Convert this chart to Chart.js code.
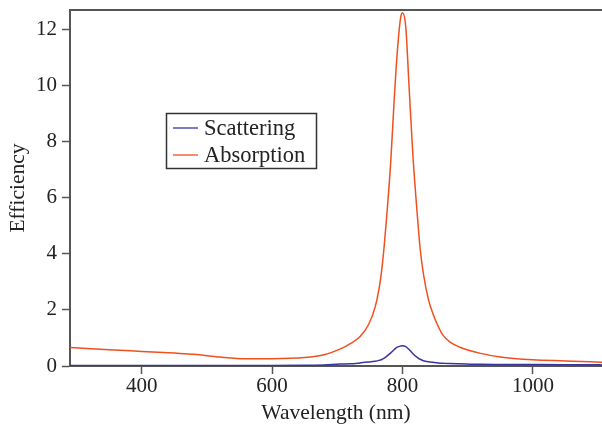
<!DOCTYPE html>
<html>
<head>
<meta charset="utf-8">
<script src="https://cdn.jsdelivr.net/npm/chart.js@4"></script>
<style>
  html, body { margin: 0; padding: 0; background: #fff; }
  #wrap { width: 602px; height: 429px; }
</style>
</head>
<body>
<div id="wrap"><canvas id="chart"></canvas></div>
<script>
// wavelength samples (nm) and efficiencies
const wavelengths = [290, 350, 400, 450, 480, 520, 560, 600, 650, 680, 704, 720, 735, 748, 758, 764, 768, 772, 776, 782, 787, 792, 797, 800, 805, 810, 816, 823, 827, 832, 840, 847, 855, 862, 873, 888, 920, 950, 1000, 1050, 1106];
const absorption  = [0.66, 0.58, 0.52, 0.46, 0.42, 0.32, 0.26, 0.26, 0.30, 0.40, 0.60, 0.80, 1.05, 1.48, 2.10, 2.75, 3.40, 4.30, 5.40, 7.30, 9.40, 11.2, 12.4, 12.6, 12.1, 10.0, 7.50, 5.30, 4.20, 3.30, 2.35, 1.85, 1.40, 1.10, 0.85, 0.67, 0.45, 0.32, 0.22, 0.18, 0.13];
const scattering  = [0.02, 0.02, 0.02, 0.02, 0.02, 0.02, 0.02, 0.02, 0.025, 0.04, 0.07, 0.08, 0.11, 0.14, 0.17, 0.20, 0.23, 0.28, 0.35, 0.47, 0.58, 0.67, 0.71, 0.72, 0.69, 0.59, 0.44, 0.30, 0.24, 0.19, 0.15, 0.13, 0.11, 0.10, 0.09, 0.08, 0.06, 0.055, 0.05, 0.045, 0.04];
const xTicks = [400, 600, 800, 1000];
const yTicks = [0, 2, 4, 6, 8, 10, 12];

const axisColor = "#555";
const textColor = "#222";
const serif = "'Liberation Serif', 'DejaVu Serif', serif";

// frame line along the top and a boxed legend inside the plot
const framePlugin = {
  id: "frame",
  afterDraw(chart) {
    const {ctx, chartArea: a} = chart;
    ctx.save();
    ctx.strokeStyle = axisColor;
    ctx.lineWidth = 2;
    ctx.beginPath();
    ctx.moveTo(a.left - 1, a.top);
    ctx.lineTo(a.right + 2, a.top);
    ctx.stroke();

    // legend box
    ctx.lineWidth = 1.5;
    ctx.strokeStyle = "#333";
    ctx.strokeRect(166.5, 113.5, 150, 55);
    ctx.font = "22.5px " + serif;
    ctx.textBaseline = "middle";
    chart.data.datasets.forEach((ds, i) => {
      const y = 128 + i * 27;
      ctx.strokeStyle = ds.borderColor;
      ctx.lineWidth = 1.3;
      ctx.beginPath();
      ctx.moveTo(173, y);
      ctx.lineTo(198, y);
      ctx.stroke();
      ctx.fillStyle = textColor;
      ctx.fillText(ds.label, 204, y + 1);
    });
    ctx.restore();
  }
};

new Chart("chart", {
  type: "line",
  data: {
    datasets: [
      {
        label: "Scattering",
        data: wavelengths.map((w, i) => ({x: w, y: scattering[i]})),
        borderColor: "#3a34a0",
        borderWidth: 1.5,
        pointRadius: 0,
        cubicInterpolationMode: "monotone",
        fill: false
      },
      {
        label: "Absorption",
        data: wavelengths.map((w, i) => ({x: w, y: absorption[i]})),
        borderColor: "#f0501e",
        borderWidth: 1.5,
        pointRadius: 0,
        cubicInterpolationMode: "monotone",
        fill: false
      }
    ]
  },
  options: {
    responsive: true,
    maintainAspectRatio: false,
    animation: false,
    layout: { padding: { top: 10, right: 0, left: 0, bottom: 0 } },
    plugins: {
      legend: { display: false },
      tooltip: { enabled: false }
    },
    scales: {
      x: {
        type: "linear",
        min: 290,
        max: 1106,
        afterBuildTicks: scale => { scale.ticks = xTicks.map(v => ({value: v})); },
        afterFit: scale => { scale.height = 63; scale.paddingLeft = 0; scale.paddingRight = 0; },
        border: { color: axisColor, width: 2 },
        grid: { drawOnChartArea: false, drawTicks: true, tickLength: 8, tickColor: axisColor, tickWidth: 1.5 },
        ticks: { color: textColor, font: { family: serif, size: 21 }, padding: 0, maxRotation: 0, callback: v => String(v) },
        title: { display: true, text: "Wavelength (nm)", color: textColor, font: { family: serif, size: 21.5 }, padding: { top: 0, bottom: 3 } }
      },
      y: {
        min: 0,
        max: 12.7,
        afterBuildTicks: scale => { scale.ticks = yTicks.map(v => ({value: v})); },
        afterFit: scale => { scale.width = 70; scale.paddingTop = 0; scale.paddingBottom = 0; },
        border: { color: axisColor, width: 2 },
        grid: { drawOnChartArea: false, drawTicks: true, tickLength: 8, tickColor: axisColor, tickWidth: 1.5 },
        ticks: { color: textColor, font: { family: serif, size: 21 }, padding: 5, callback: v => String(v) },
        title: { display: true, text: "Efficiency", color: textColor, font: { family: serif, size: 21.5 }, padding: { top: 5, bottom: 0 } }
      }
    }
  },
  plugins: [framePlugin]
});
</script>
</body>
</html>
